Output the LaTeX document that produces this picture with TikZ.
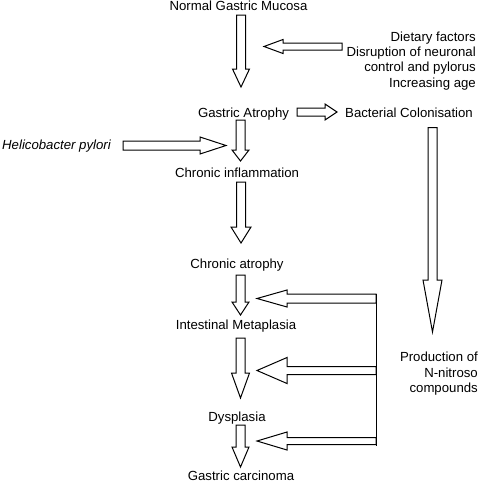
\documentclass[tikz,border=0pt]{standalone}
\usepackage{fontspec}
\setmainfont{Liberation Sans}
\usetikzlibrary{calc}
\tikzset{
  lbl/.style={inner sep=0pt, anchor=base, font=\fontsize{13.2}{15.3}\selectfont},
  ahl/.store in=\ahl, asw/.store in=\asw, ahw/.store in=\ahw,
  ahl=15pt, asw=4.5pt, ahw=8.5pt,
  barrow/.style={draw, line width=1pt, line join=miter, to path={
    ($(\tikztostart)!\asw!90:(\tikztotarget)$) --
    ($(\tikztotarget)!\ahl!(\tikztostart)!\asw!90:(\tikztotarget)$) --
    ($(\tikztotarget)!\ahl!(\tikztostart)!\ahw!90:(\tikztotarget)$) --
    (\tikztotarget) --
    ($(\tikztotarget)!\ahl!(\tikztostart)!\ahw!-90:(\tikztotarget)$) --
    ($(\tikztotarget)!\ahl!(\tikztostart)!\asw!-90:(\tikztotarget)$) --
    ($(\tikztostart)!\asw!-90:(\tikztotarget)$) -- cycle}},
  vline/.style={draw, line width=1pt}
}
\begin{document}
\begin{tikzpicture}[x=1pt,y=-1pt]
\useasboundingbox (0,0) rectangle (479,482);
% text nodes
\node[lbl] (ngm) at (238.5,10.5) {Normal Gastric Mucosa};
\node[lbl] (ga) at (243.5,117.5) {Gastric Atrophy};
\node[lbl, anchor=base west] (bc) at (345,117.5) {Bacterial Colonisation};
\node[lbl, anchor=base east, align=right] (diet) at (476,87) {Dietary factors\\Disruption of neuronal\\control and pylorus\\Increasing age};
\node[lbl, anchor=base west] (hp) at (2,149) {\itshape Helicobacter pylori};
\node[lbl] (ci) at (237,177.5) {Chronic inflammation};
\node[lbl] (ca) at (237,268.5) {Chronic atrophy};
\node[lbl] (im) at (236,329.5) {Intestinal Metaplasia};
\node[lbl] (dy) at (237,421) {Dysplasia};
\node[lbl] (gc) at (241,480.5) {Gastric carcinoma};
\node[lbl, anchor=base east, align=right] (nn) at (478,392.5) {Production of\\N-nitroso\\compounds};
% arrow end points
\coordinate (a1s) at (241,15);   \coordinate (a1t) at (241,87);
\coordinate (a2s) at (342,46.5); \coordinate (a2t) at (264,46.5);
\coordinate (a3s) at (297,112);  \coordinate (a3t) at (337,112);
\coordinate (a4s) at (240.5,120);\coordinate (a4t) at (240.5,161);
\coordinate (hps) at (123,145.5);\coordinate (hpt) at (226,145.5);
\coordinate (a5s) at (241,182);  \coordinate (a5t) at (241,243);
\coordinate (a6s) at (240.5,275);\coordinate (a6t) at (240.5,315);
\coordinate (a7s) at (240.5,338);\coordinate (a7t) at (240.5,398);
\coordinate (a8s) at (240.5,425);\coordinate (a8t) at (240.5,467);
\coordinate (bgs) at (432.5,127.5);\coordinate (bgt) at (432.5,332);
\coordinate (las) at (376,298.5);\coordinate (lat) at (257,298.5);
\coordinate (lbs) at (376,370.5);\coordinate (lbt) at (257,370.5);
\coordinate (lcs) at (376,441);  \coordinate (lct) at (257,441);
\coordinate (vtop) at (376,294);  \coordinate (vbot) at (376,445.5);
% block arrows
\draw[barrow, ahl=18pt, ahw=8.5pt] (a1s) to (a1t);
\draw[barrow, ahl=19pt, asw=3.5pt, ahw=7pt] (a2s) to (a2t);
\draw[barrow, ahl=12pt, asw=4pt, ahw=8pt] (a3s) to (a3t);
\draw[barrow, ahl=11pt, ahw=8.5pt] (a4s) to (a4t);
\draw[barrow, ahl=26pt, ahw=8.5pt] (hps) to (hpt);
\draw[barrow, ahl=16pt, ahw=10pt] (a5s) to (a5t);
\draw[barrow, ahl=13pt, ahw=8.5pt] (a6s) to (a6t);
\draw[barrow, ahl=25pt, ahw=9pt] (a7s) to (a7t);
\draw[barrow, ahl=20pt, ahw=8.5pt] (a8s) to (a8t);
\draw[barrow, ahl=52pt, ahw=9.5pt] (bgs) to (bgt);
\draw[barrow, ahl=30pt, ahw=8.5pt] (las) to (lat);
\draw[barrow, ahl=30pt, ahw=13pt, asw=4pt] (lbs) to (lbt);
\draw[barrow, ahl=30pt, ahw=9pt, asw=3.5pt] (lcs) to (lct);
\draw[vline] (vtop) -- (vbot);
\end{tikzpicture}
\end{document}
